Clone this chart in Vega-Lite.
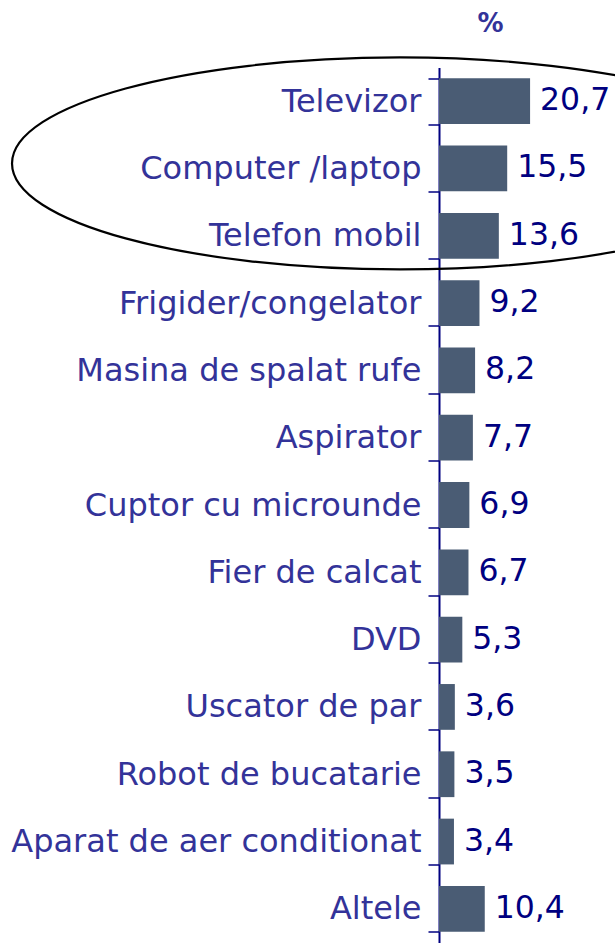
{
  "$schema": "https://vega.github.io/schema/vega-lite/v6.json",
  "width": 176,
  "height": 875,
  "autosize": {"type": "none"},
  "padding": {"left": 439, "top": 67.5, "right": 0, "bottom": 1.5},
  "background": "white",
  "config": {"view": {"stroke": null}},
  "datasets": {
    "bars": [
      {"category": "Televizor", "value": 20.7, "label": "20,7"},
      {"category": "Computer /laptop", "value": 15.5, "label": "15,5"},
      {"category": "Telefon mobil", "value": 13.6, "label": "13,6"},
      {"category": "Frigider/congelator", "value": 9.2, "label": "9,2"},
      {"category": "Masina de spalat rufe", "value": 8.2, "label": "8,2"},
      {"category": "Aspirator", "value": 7.7, "label": "7,7"},
      {"category": "Cuptor cu microunde", "value": 6.9, "label": "6,9"},
      {"category": "Fier de calcat", "value": 6.7, "label": "6,7"},
      {"category": "DVD", "value": 5.3, "label": "5,3"},
      {"category": "Uscator de par", "value": 3.6, "label": "3,6"},
      {"category": "Robot de bucatarie", "value": 3.5, "label": "3,5"},
      {"category": "Aparat de aer conditionat", "value": 3.4, "label": "3,4"},
      {"category": "Altele", "value": 10.4, "label": "10,4"}
    ],
    "highlight": [
      {"category": "Computer /laptop", "x": -8.86}
    ]
  },
  "layer": [
    {
      "data": {"name": "bars"},
      "mark": {"type": "bar", "color": "#4a5c74"},
      "encoding": {
        "y": {
          "field": "category", "type": "nominal", "sort": null,
          "scale": {"paddingInner": 0.32, "paddingOuter": 0.16},
          "axis": {
            "title": null, "orient": "left",
            "domainColor": "#000080", "domainWidth": 2,
            "tickColor": "#000080", "tickWidth": 1.5, "tickSize": 11, "tickBand": "extent",
            "labelColor": "#333399", "labelFont": "DejaVu Sans", "labelFontSize": 32,
            "labelPadding": 7, "labelLimit": 600
          }
        },
        "x": {
          "field": "value", "type": "quantitative",
          "scale": {"domain": [0, 40]},
          "axis": {
            "orient": "top", "domain": false, "ticks": false, "labels": false, "grid": false,
            "title": "%", "titleFont": "DejaVu Sans", "titleFontWeight": "bold", "titleFontSize": 26,
            "titleColor": "#333399", "titleX": 51, "titleY": -44, "titleAlign": "center", "titleBaseline": "middle"
          }
        }
      }
    },
    {
      "data": {"name": "bars"},
      "mark": {"type": "text", "align": "left", "baseline": "middle", "dx": 10, "fontSize": 31.5, "font": "DejaVu Sans", "color": "#000080"},
      "encoding": {
        "y": {"field": "category", "type": "nominal", "sort": null},
        "x": {"field": "value", "type": "quantitative"},
        "text": {"field": "label"}
      }
    },
    {
      "data": {"name": "highlight"},
      "mark": {
        "type": "point",
        "shape": "M -1 0 A 1 0.2732 0 1 1 1 0 A 1 0.2732 0 1 1 -1 0 Z",
        "size": 602176, "filled": false, "stroke": "black", "strokeWidth": 2.2, "opacity": 1, "yOffset": -5
      },
      "encoding": {
        "y": {"field": "category", "type": "nominal", "sort": null},
        "x": {"field": "x", "type": "quantitative"}
      }
    }
  ]
}
